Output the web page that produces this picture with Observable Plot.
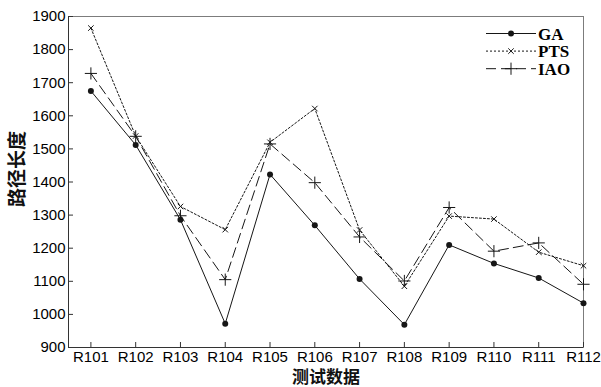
<!DOCTYPE html>
<html>
<head>
<meta charset="utf-8">
<script src="https://cdn.jsdelivr.net/npm/d3@7"></script>
<script src="https://cdn.jsdelivr.net/npm/@observablehq/plot@0.6"></script>
<style>
  body { margin: 0; background: #fff; }
  #chart svg { display: block; }
</style>
</head>
<body>
<div id="chart"></div>
<script>
// Test instances (x axis categories)
const instances = ["R101", "R102", "R103", "R104", "R105", "R106", "R107", "R108", "R109", "R110", "R111", "R112"];

// Route length per instance for each algorithm
const gaValues  = [1675, 1512, 1286,  972, 1423, 1269, 1107,  969, 1210, 1154, 1110, 1034];
const ptsValues = [1865, 1539, 1326, 1256, 1520, 1622, 1255, 1085, 1297, 1288, 1188, 1147];
const iaoValues = [1728, 1538, 1298, 1105, 1515, 1398, 1234, 1101, 1323, 1191, 1216, 1091];

const seriesNames = ["GA", "PTS", "IAO"];
const yTicks = [900, 1000, 1100, 1200, 1300, 1400, 1500, 1600, 1700, 1800, 1900];

// Line and marker style per algorithm
const seriesStyle = {
  GA:  {dash: null,  symbol: "circle", r: 3,   filled: true},
  PTS: {dash: "2,2", symbol: "times",  r: 2.6, filled: false},
  IAO: {dash: "10,5", symbol: "plus",  r: 4,   filled: false}
};

const seriesValues = {GA: gaValues, PTS: ptsValues, IAO: iaoValues};
const rows = seriesNames.flatMap(name =>
  seriesValues[name].map((value, i) => ({series: name, i: i + 1, value}))
);
const xTicks = instances.map((_, i) => i + 1);
const ink = "#161616";
const tickFont = "'Liberation Sans', Arial, sans-serif";
const cjkFont = "'Noto Sans CJK SC', sans-serif";

const seriesMarks = seriesNames.flatMap(name => {
  const s = seriesStyle[name];
  const data = rows.filter(d => d.series === name);
  return [
    Plot.line(data, {x: "i", y: "value", stroke: ink, strokeWidth: 1, strokeDasharray: s.dash}),
    Plot.dot(data, {
      x: "i", y: "value", symbol: s.symbol, r: s.r,
      fill: s.filled ? ink : "none", stroke: s.filled ? "none" : ink, strokeWidth: 1
    })
  ];
});

const chart = Plot.plot({
  width: 601,
  height: 387,
  marginLeft: 68,
  marginRight: 18,
  marginTop: 16,
  marginBottom: 40,
  style: {fontFamily: tickFont, fontSize: "15px", color: "#000", background: "#fff", overflow: "visible"},
  x: {domain: [0.5, 12], axis: null},
  y: {domain: [900, 1900], axis: null},
  marks: [
    Plot.frame({stroke: "#7c7c7c"}),
    // inward ticks
    Plot.axisX({ticks: xTicks, tickSize: -5, text: null, label: null, stroke: "#333", anchor: "bottom"}),
    Plot.axisY({ticks: yTicks, tickSize: -5, text: null, label: null, stroke: "#333", anchor: "left"}),
    // tick labels
    Plot.axisX({
      ticks: xTicks, tickSize: 0, tickPadding: 4, tickFormat: d => instances[d - 1],
      anchor: "bottom", label: null, fill: "#000", fontSize: 15, fontFamily: tickFont
    }),
    Plot.axisY({
      ticks: yTicks, tickSize: 0, tickPadding: 3, tickFormat: d => String(d),
      anchor: "left", label: null, fill: "#000", fontSize: 15, fontFamily: tickFont
    }),
    Plot.ruleX([0.5], {stroke: "#333"}),
    Plot.ruleY([900], {stroke: "#333"}),
    ...seriesMarks,
    // axis titles
    Plot.text(["路径长度"], {
      frameAnchor: "left", dx: -51, dy: -13, rotate: -90, text: d => d,
      textAnchor: "middle", lineAnchor: "middle",
      fontSize: 19, fontWeight: "bold", fontFamily: cjkFont, fill: "#111"
    }),
    Plot.text(["测试数据"], {
      frameAnchor: "bottom", dy: 30, text: d => d,
      textAnchor: "middle", lineAnchor: "middle",
      fontSize: 17, fontWeight: "bold", fontFamily: cjkFont, fill: "#111"
    })
  ]
});

// Legend in the upper right corner of the plot area
const svg = d3.select(chart);
const legend = svg.append("g").attr("class", "legend").attr("text-anchor", "start");
const symbolTypes = {circle: d3.symbolCircle, times: d3.symbolTimes, plus: d3.symbolPlus};
seriesNames.forEach((name, k) => {
  const s = seriesStyle[name];
  const y = 33.5 + k * 17.6;
  const row = legend.append("g");
  row.append("line")
    .attr("x1", 486).attr("x2", 536).attr("y1", y).attr("y2", y)
    .attr("stroke", ink).attr("stroke-width", 1)
    .attr("stroke-dasharray", s.dash);
  row.append("path")
    .attr("transform", `translate(511,${y})`)
    .attr("d", d3.symbol(symbolTypes[s.symbol], s.r * s.r * Math.PI)())
    .attr("fill", s.filled ? ink : "none")
    .attr("stroke", s.filled ? "none" : ink)
    .attr("stroke-width", 1);
  row.append("text")
    .attr("x", 538).attr("y", y).attr("dy", "0.36em")
    .attr("text-anchor", "start")
    .attr("font-family", "'Liberation Serif', 'Times New Roman', serif")
    .attr("font-weight", "bold").attr("font-size", 17)
    .attr("fill", "#000")
    .text(name);
});

document.getElementById("chart").appendChild(chart);
</script>
</body>
</html>
